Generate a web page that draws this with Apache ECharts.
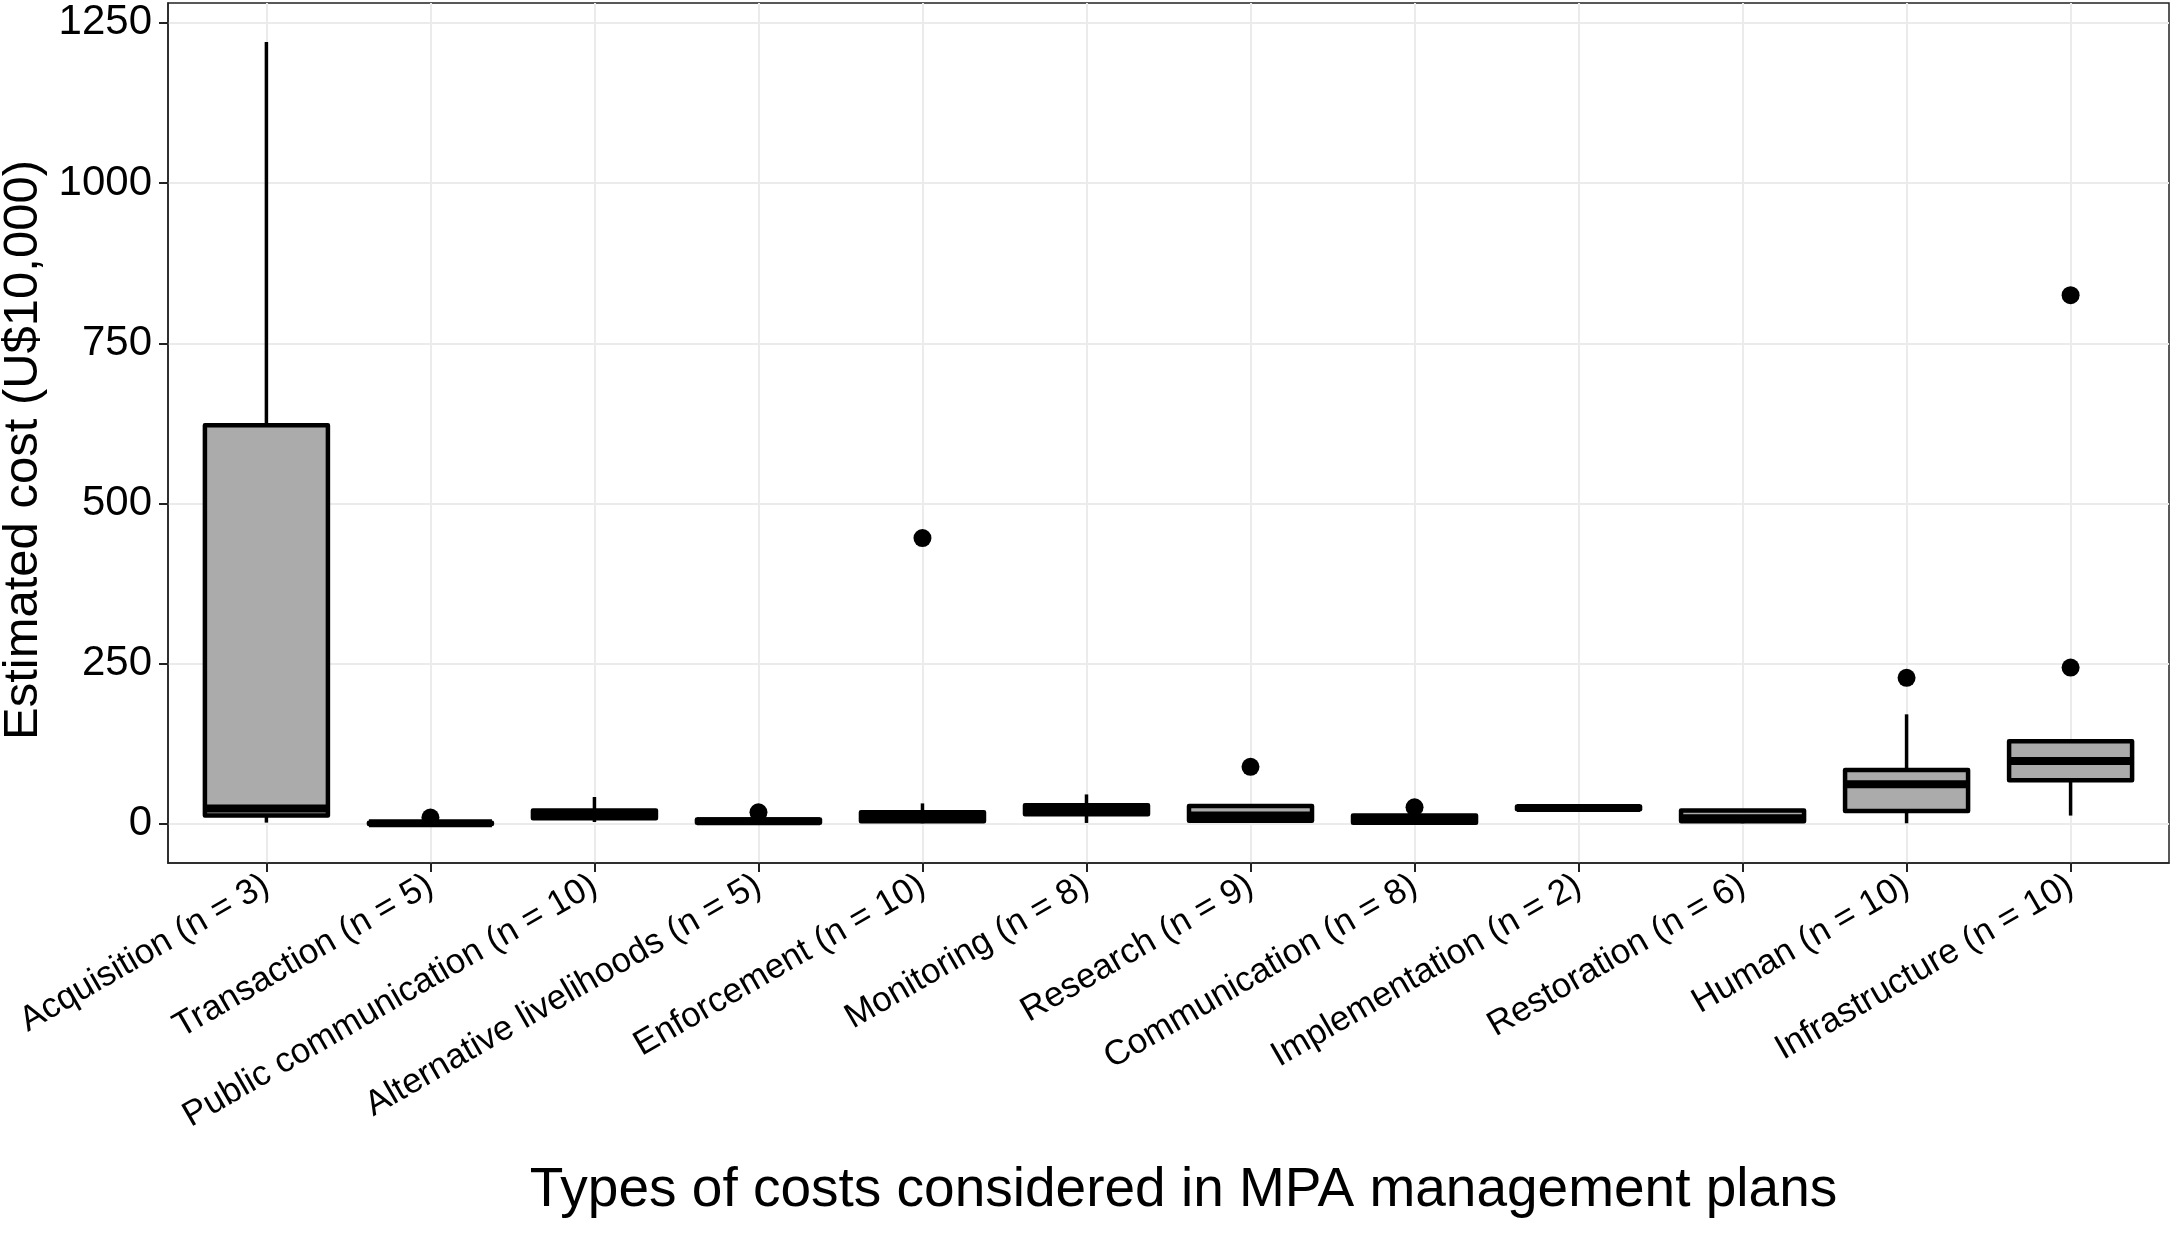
<!DOCTYPE html>
<html><head><meta charset="utf-8">
<script src="https://cdn.jsdelivr.net/npm/echarts@6/dist/echarts.min.js"></script>
<style>html,body{margin:0;padding:0;background:#fff}#c{width:2172px;height:1233px}</style>
</head><body><div id="c"></div>
<script>
const categories = ['Acquisition (n = 3)','Transaction (n = 5)','Public communication (n = 10)','Alternative livelihoods (n = 5)','Enforcement (n = 10)','Monitoring (n = 8)','Research (n = 9)','Communication (n = 8)','Implementation (n = 2)','Restoration (n = 6)','Human (n = 10)','Infrastructure (n = 10)'];
const whiskerLow  = [2,   0, 3,  0, 1, 1.5, 1.5, 0,  21, 1,  1,   13];
const q1Values    = [13,  0, 9,  2, 4, 15,  5,   2,  23, 4,  20,  68];
const medianValues= [24,  1, 14, 4, 10, 22, 13,  6,  25, 9,  62,  98];
const q3Values    = [622, 2, 21, 7, 18, 29, 28,  13, 27, 21, 84,  129];
const whiskerHigh = [1220,3, 42, 9, 32, 46, 30,  14, 29, 22, 171, 129];
const outlierCategory = [2, 4, 5, 7, 8, 11, 12, 12];
const outlierValues   = [10, 18, 446, 89, 26, 228, 244, 825];
const yTicks = [0, 250, 500, 750, 1000, 1250];

const positions = categories.map((c, i) => i + 1);
const boxData = positions.map((x, i) => [x, whiskerLow[i], q1Values[i], medianValues[i], q3Values[i], whiskerHigh[i]]);
const outlierData = outlierCategory.map((c, i) => [c, outlierValues[i]]);

const font = "'Liberation Sans', Arial, Helvetica, sans-serif";
const chart = echarts.init(document.getElementById('c'), null, {renderer: 'canvas'});

function renderBox(params, api) {
  const x = api.value(0);
  const lo = api.coord([x, api.value(1)]);
  const q1 = api.coord([x, api.value(2)]);
  const md = api.coord([x, api.value(3)]);
  const q3 = api.coord([x, api.value(4)]);
  const hi = api.coord([x, api.value(5)]);
  const w = api.size([0.75, 0])[0];
  const cx = lo[0];
  return {type: 'group', children: [
    {type: 'line', shape: {x1: cx, y1: hi[1], x2: cx, y2: q3[1]}, style: {stroke: '#000', lineWidth: 3.5}},
    {type: 'line', shape: {x1: cx, y1: q1[1], x2: cx, y2: lo[1]}, style: {stroke: '#000', lineWidth: 3.5}},
    {type: 'rect', shape: {x: cx - w / 2, y: q3[1], width: w, height: q1[1] - q3[1]}, style: {fill: '#ababab', stroke: '#000', lineWidth: 4.5, lineJoin: 'round'}},
    {type: 'line', shape: {x1: cx - w / 2, y1: md[1], x2: cx + w / 2, y2: md[1]}, style: {stroke: '#000', lineWidth: 8}}
  ]};
}

chart.setOption({
  animation: false,
  backgroundColor: '#fff',
  grid: {left: 168, right: 3, top: 3, bottom: 370, containLabel: false, outerBoundsMode: 'none',
    show: true, borderColor: '#222', borderWidth: 1.5, backgroundColor: 'transparent'},
  xAxis: {
    type: 'value', min: 0.4, max: 12.6,
    name: 'Types of costs considered in MPA management plans',
    nameLocation: 'middle', nameGap: 300,
    nameTextStyle: {fontFamily: font, fontSize: 55, color: '#000', padding: [0, 0, 0, 30]},
    axisLine: {show: true, onZero: false, lineStyle: {color: '#222', width: 1.5}},
    axisTick: {show: true, length: 9, customValues: positions, lineStyle: {color: '#222', width: 2}},
    axisLabel: {customValues: positions, rotate: 30, margin: 20, fontFamily: font, fontSize: 35, color: '#000',
      formatter: v => categories[Math.round(v) - 1] || ''},
    splitLine: {show: true, lineStyle: {color: '#ebebeb', width: 2}}
  },
  yAxis: {
    type: 'value', min: -61, max: 1281,
    name: 'Estimated cost (U$10,000)',
    nameLocation: 'middle', nameGap: 120,
    nameTextStyle: {fontFamily: font, fontSize: 49, color: '#000', padding: [0, 34, 0, 0]},
    axisLine: {show: true, onZero: false, lineStyle: {color: '#222', width: 1.5}},
    axisTick: {show: true, length: 9, customValues: yTicks, lineStyle: {color: '#222', width: 2}},
    axisLabel: {customValues: yTicks, margin: 16, fontFamily: font, fontSize: 42, color: '#000',
      formatter: v => String(v)},
    splitLine: {show: true, lineStyle: {color: '#ebebeb', width: 2}}
  },
  series: [
    {type: 'custom', renderItem: renderBox, data: boxData, encode: {x: 0, y: [1, 2, 3, 4, 5]}, z: 2},
    {type: 'scatter', data: outlierData, symbol: 'circle', symbolSize: 18, itemStyle: {color: '#000', opacity: 1}, z: 3}
  ]
});
</script></body></html>
